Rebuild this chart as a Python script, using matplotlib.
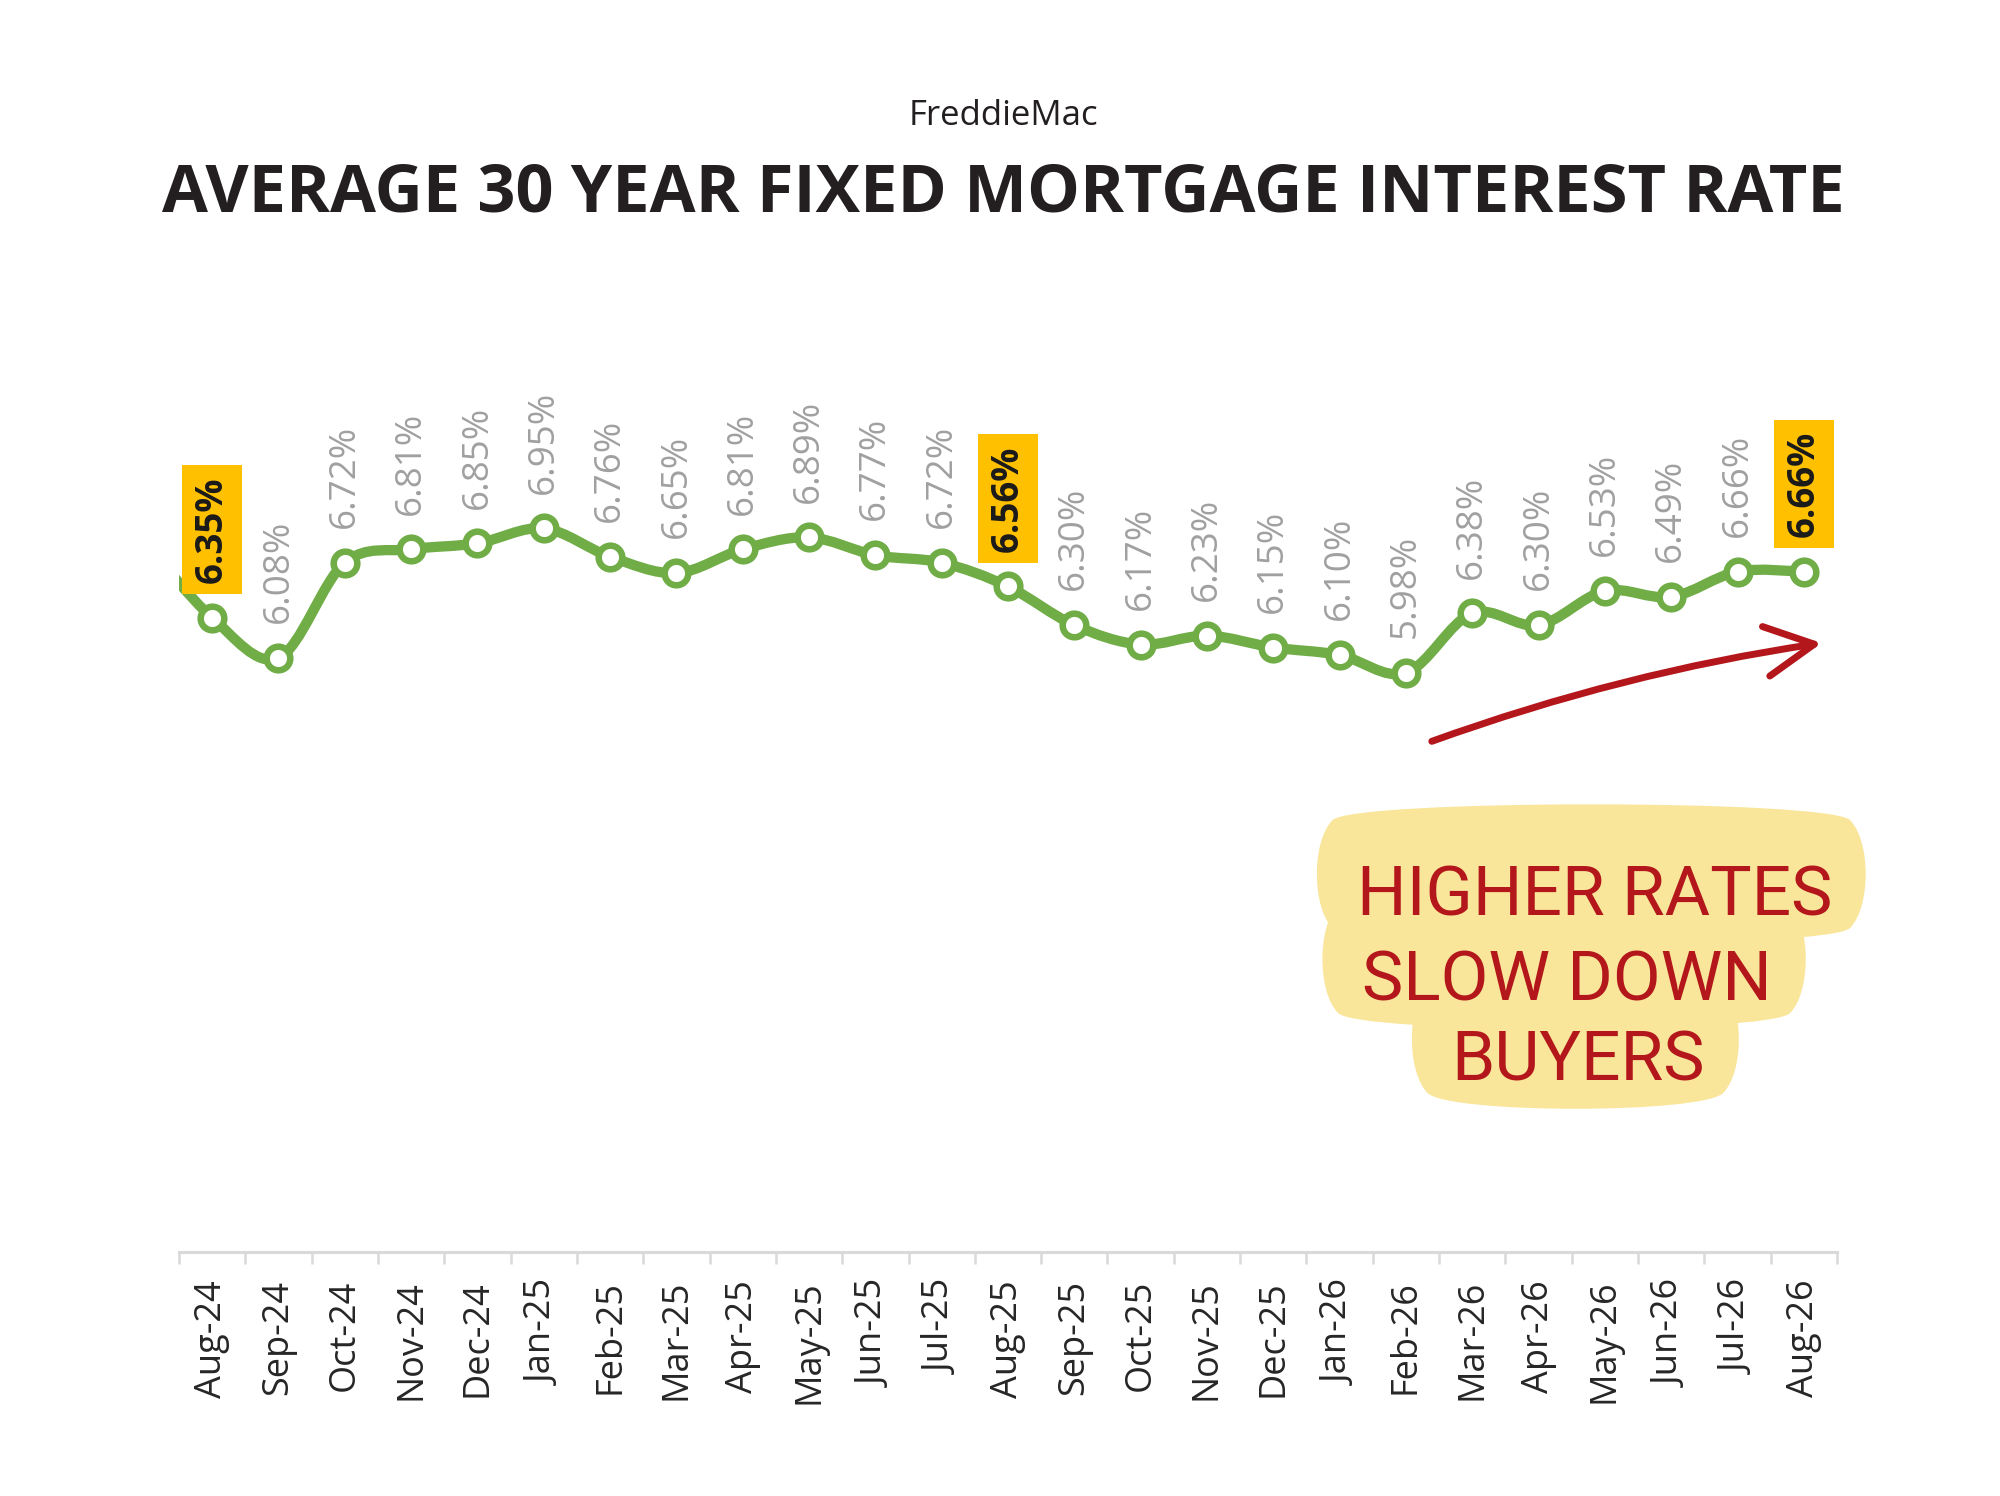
import matplotlib
matplotlib.use('Agg')
import matplotlib.pyplot as plt
import numpy as np
from matplotlib.path import Path
from matplotlib.patches import PathPatch, FancyArrowPatch, FancyBboxPatch
from matplotlib.transforms import IdentityTransform

# data (Jul-24 only feeds the line that runs off the left edge)
months = ['Jul-24', 'Aug-24', 'Sep-24', 'Oct-24', 'Nov-24', 'Dec-24', 'Jan-25',
          'Feb-25', 'Mar-25', 'Apr-25', 'May-25', 'Jun-25', 'Jul-25', 'Aug-25',
          'Sep-25', 'Oct-25', 'Nov-25', 'Dec-25', 'Jan-26', 'Feb-26', 'Mar-26',
          'Apr-26', 'May-26', 'Jun-26', 'Jul-26', 'Aug-26']
rates = [6.85, 6.35, 6.08, 6.72, 6.81, 6.85, 6.95, 6.76, 6.65, 6.81, 6.89, 6.77,
         6.72, 6.56, 6.30, 6.17, 6.23, 6.15, 6.10, 5.98, 6.38, 6.30, 6.53, 6.49,
         6.66, 6.66]
highlight = ['Aug-24', 'Aug-25', 'Aug-26']

title = 'AVERAGE 30 YEAR FIXED MORTGAGE INTEREST RATE'
source = 'FreddieMac'
note_lines = ['HIGHER RATES', 'SLOW DOWN', 'BUYERS']

GREEN = '#70AD47'
GOLD = '#FFC000'
GRAY = '#A0A0A0'
RED = '#B3171B'
YELLOW = '#F9E69B'
AXGRAY = '#D9D9D9'

W, H = 2000, 1496
fig = plt.figure(figsize=(20, 14.96), dpi=100)
ax = fig.add_axes([179 / W, 1 - 1252 / H, (1837 - 179) / W, (1252 - 250) / H])

x = np.arange(len(months)) - 1
y = np.array(rates)

# smoothed line like excel (bezier through every point)
n = len(x)
verts = [(x[0], y[0])]
codes = [Path.MOVETO]
for i in range(n - 1):
    p0 = np.array([x[max(i - 1, 0)], y[max(i - 1, 0)]])
    p1 = np.array([x[i], y[i]])
    p2 = np.array([x[i + 1], y[i + 1]])
    p3 = np.array([x[min(i + 2, n - 1)], y[min(i + 2, n - 1)]])
    c1 = p1 + (p2 - p0) / 6
    c2 = p2 - (p3 - p1) / 6
    verts += [tuple(c1), tuple(c2), tuple(p2)]
    codes += [Path.CURVE4] * 3
ax.add_patch(PathPatch(Path(verts, codes), fill=False, ec=GREEN, lw=7.4,
                       capstyle='round', joinstyle='round', zorder=2))

ax.plot(x[1:], y[1:], ls='none', marker='o', ms=17, mfc='white', mec=GREEN,
        mew=4.7, zorder=3)

for xi, yi, m in zip(x[1:], y[1:], months[1:]):
    lab = '%.2f%%' % yi
    if m in highlight:
        ax.annotate(lab, (xi, yi), xytext=(0, 25), textcoords='offset points',
                    rotation=90, ha='center', va='bottom', fontsize=26.5,
                    fontweight='bold', color='#1A1A1A', family='Open Sans',
                    bbox=dict(boxstyle='square,pad=0.3', fc=GOLD, ec='none'),
                    zorder=4)
    else:
        ax.annotate(lab, (xi, yi), xytext=(0, 25), textcoords='offset points',
                    rotation=90, ha='center', va='bottom', fontsize=26.5,
                    color=GRAY, family='Open Sans', zorder=4)

ax.set_xlim(-0.5, 24.5)
ax.set_ylim(2.09, 8.82)
for s in ['left', 'right', 'top']:
    ax.spines[s].set_visible(False)
ax.spines['bottom'].set_color(AXGRAY)
ax.spines['bottom'].set_linewidth(2.2)
ax.set_yticks([])
ax.set_xticks(x[1:])
ax.set_xticklabels(months[1:], rotation=90, fontsize=26, color='#262626',
                   family='Open Sans')
ax.set_xticks(np.arange(-0.5, 25, 1), minor=True)
ax.tick_params(axis='x', which='major', length=0, pad=20)
ax.tick_params(axis='x', which='minor', length=8.6, width=1.8, color=AXGRAY)

fig.text(1003 / W, 1 - 125 / H, source, ha='center', va='baseline',
         fontsize=25, color='#231F20', family='Open Sans')
fig.text(1003 / W, 1 - 212 / H, title, ha='center', va='baseline',
         fontsize=48, fontweight='bold', color='#231F20', family='Open Sans')

# hand drawn style note
arrow = FancyArrowPatch(posA=(18.39, 5.52), posB=(24.27, 6.18),
                        arrowstyle='->,head_length=1.75,head_width=0.9',
                        mutation_scale=20, connectionstyle='arc3,rad=-0.05',
                        color=RED, lw=5, capstyle='round', joinstyle='round',
                        shrinkA=0, shrinkB=0, zorder=5)
ax.add_patch(arrow)

note_x = [20.84, 20.43, 20.60]
note_y = [4.353, 3.782, 3.245]
notes = []
for tx, ty, t in zip(note_x, note_y, note_lines):
    notes.append(ax.text(tx, ty, t, ha='center', va='baseline', fontsize=50,
                         color=RED, family='Roboto', zorder=5))

# yellow blob behind the note, built from the text extents (pixels)
fig.canvas.draw()
rend = fig.canvas.get_renderer()
for t in notes:
    bb = t.get_window_extent(rend)
    blob = FancyBboxPatch((bb.x0 - 3, bb.y0 + 22), bb.width, bb.height,
                          boxstyle='round4,pad=42', fc=YELLOW, ec='none',
                          transform=IdentityTransform(), zorder=1,
                          clip_on=False)
    ax.add_artist(blob)

fig.savefig('out.png', dpi=100, facecolor='white')
